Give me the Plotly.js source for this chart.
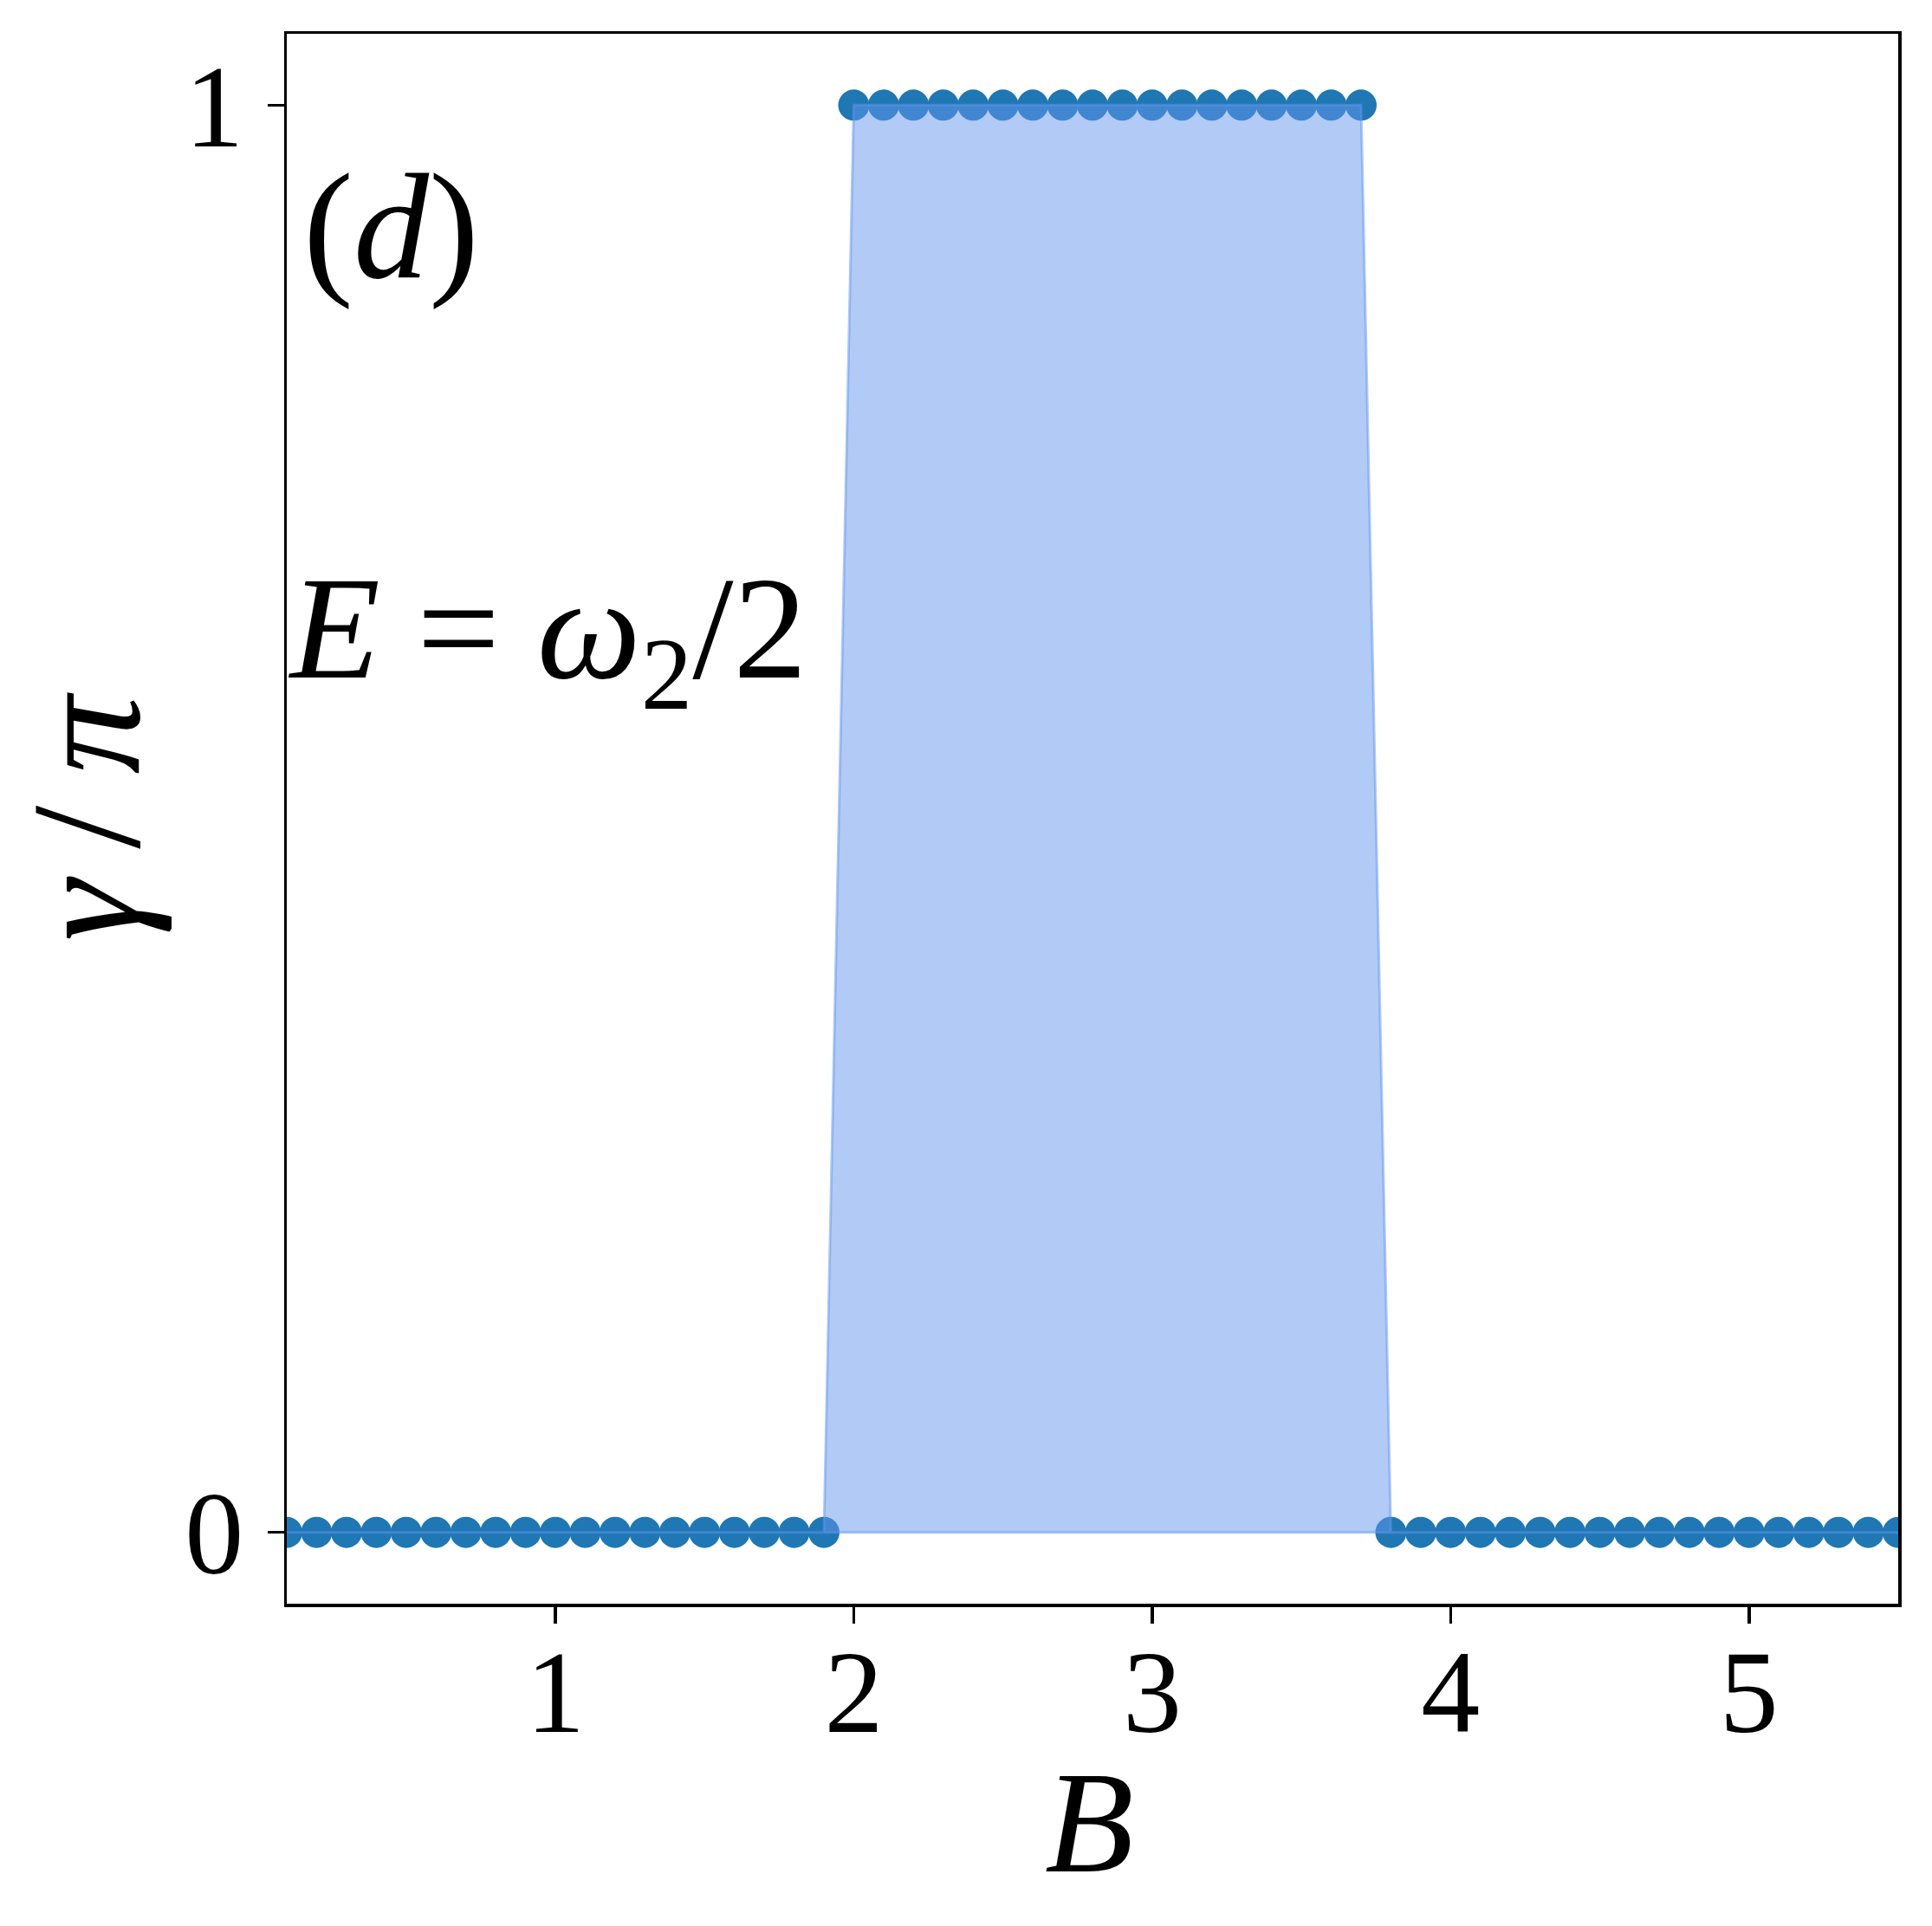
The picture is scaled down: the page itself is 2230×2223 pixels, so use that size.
<!DOCTYPE html>
<html>
<head>
<meta charset="utf-8">
<script src="https://cdn.plot.ly/plotly-3.0.1.min.js"></script>
<style>html,body{margin:0;padding:0;background:#fff;}</style>
</head>
<body>
<div id="chart" style="width:2230px;height:2223px;"></div>
<script>
// Magnetic field values B
const B = [0.1,0.2,0.3,0.4,0.5,0.6,0.7,0.8,0.9,1.0,
           1.1,1.2,1.3,1.4,1.5,1.6,1.7,1.8,1.9,2.0,
           2.1,2.2,2.3,2.4,2.5,2.6,2.7,2.8,2.9,3.0,
           3.1,3.2,3.3,3.4,3.5,3.6,3.7,3.8,3.9,4.0,
           4.1,4.2,4.3,4.4,4.5,4.6,4.7,4.8,4.9,5.0,
           5.1,5.2,5.3,5.4,5.5];
// Berry phase gamma / pi
const gammaOverPi = [0,0,0,0,0,0,0,0,0,0,
                     0,0,0,0,0,0,0,0,0,1,
                     1,1,1,1,1,1,1,1,1,1,
                     1,1,1,1,1,1,1,0,0,0,
                     0,0,0,0,0,0,0,0,0,0,
                     0,0,0,0,0];
const xTicks = [1,2,3,4,5];
const yTicks = [0,1];
const xTitle = "<i>B</i>";
const yTitle = "<i>γ</i>\u2009/\u2009<i>π</i>";
const panelLabel = "(<i>d</i>)";
const energyLabel = "<i>E</i> = <i>ω</i><sub>2</sub>/2";

// fill_between(B, gammaOverPi, 0) polygon built from the data
const baseline = gammaOverPi.map(() => 0);
const fillX = B.concat(B.slice().reverse());
const fillY = gammaOverPi.concat(baseline.slice().reverse());

const FONT = "Liberation Serif, Times New Roman, serif";

const traces = [
  {
    x: B, y: gammaOverPi, type: "scatter", mode: "markers",
    marker: {color: "#1f77b4", size: 36, line: {width: 0}},
    hoverinfo: "skip", showlegend: false
  },
  {
    x: fillX, y: fillY, type: "scatter", mode: "lines", fill: "toself",
    fillcolor: "rgba(100,149,237,0.5)",
    line: {color: "rgba(100,149,237,0.5)", width: 3},
    hoverinfo: "skip", showlegend: false
  }
];

const layout = {
  width: 2230, height: 2223,
  margin: {l: 331, r: 39, t: 39, b: 372},
  paper_bgcolor: "#fff", plot_bgcolor: "#fff",
  font: {family: FONT, color: "#000"},
  showlegend: false,
  xaxis: {
    range: [0.1, 5.5], tickmode: "array", tickvals: xTicks,
    ticks: "outside", ticklen: 19, tickwidth: 3.5, tickcolor: "#000",
    ticklabelstandoff: -38,
    showline: true, linewidth: 3.5, linecolor: "#000", mirror: true,
    showgrid: false, zeroline: false,
    tickfont: {family: FONT, size: 136, color: "#000"}
  },
  yaxis: {
    range: [-0.05, 1.05], tickmode: "array", tickvals: yTicks,
    ticks: "outside", ticklen: 19, tickwidth: 3.5, tickcolor: "#000",
    showline: true, linewidth: 3.5, linecolor: "#000", mirror: true,
    showgrid: false, zeroline: false,
    tickfont: {family: FONT, size: 136, color: "#000"},
    title: {text: yTitle, font: {family: FONT, size: 180, color: "#000"}, standoff: 14}
  },
  annotations: [
    {x: 0.5, y: 0, xref: "paper", yref: "paper", text: xTitle, showarrow: false,
     xanchor: "center", yanchor: "middle", yshift: -252, xshift: -4,
     font: {family: FONT, size: 168, color: "#000"}},
    {x: 0.15, y: 0.88, xref: "x", yref: "y", text: panelLabel, showarrow: false,
     xanchor: "left", yanchor: "middle", yshift: 58,
     font: {family: FONT, size: 174, color: "#000"}},
    {x: 0.1, y: 0.632, xref: "x", yref: "y", text: energyLabel, showarrow: false,
     xanchor: "left", yanchor: "middle", yshift: -10,
     font: {family: FONT, size: 170, color: "#000"}}
  ]
};

Plotly.newPlot("chart", traces, layout, {staticPlot: true, displayModeBar: false});
</script>
</body>
</html>
